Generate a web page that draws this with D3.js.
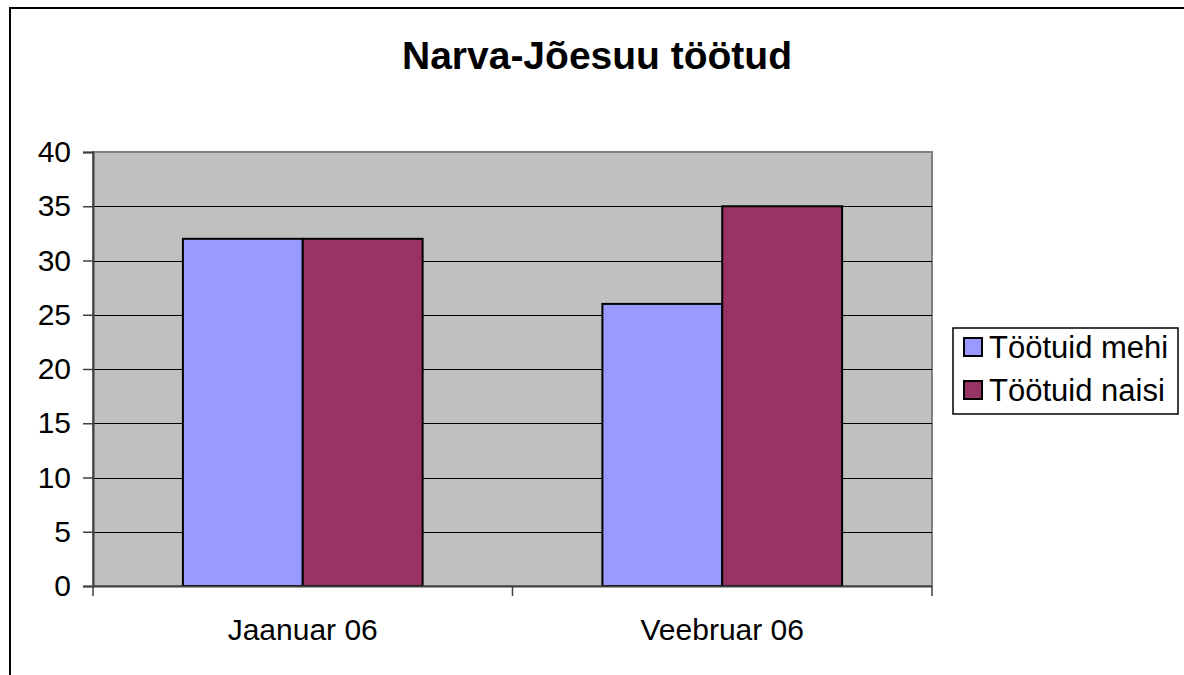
<!DOCTYPE html>
<html>
<head>
<meta charset="utf-8">
<script src="https://cdn.jsdelivr.net/npm/d3@7"></script>
<style>
  body { margin: 0; background: #fff; }
  text { font-family: "Liberation Sans", Arial, sans-serif; }
</style>
</head>
<body>
<div id="chart"></div>
<script>
var categories = ["Jaanuar 06", "Veebruar 06"];
var seriesNames = ["Töötuid mehi", "Töötuid naisi"];
var men = [32, 26];
var women = [32, 35];
var yTicks = [0, 5, 10, 15, 20, 25, 30, 35, 40];
var colors = ["#9999ff", "#993366"];

var svgWidth = 1184;
var svgHeight = 675;

var margin = { top: 152, right: 252, bottom: 89, left: 93 };
var width = svgWidth - margin.left - margin.right;
var height = svgHeight - margin.top - margin.bottom;

var svg = d3.select("#chart")
  .append("svg")
  .attr("width", svgWidth)
  .attr("height", svgHeight);

// outer chart frame (runs off the right and bottom edges)
svg.append("rect")
  .attr("x", 10).attr("y", 8)
  .attr("width", 1300).attr("height", 800)
  .attr("fill", "none")
  .attr("stroke", "#000")
  .attr("stroke-width", 2);

svg.append("text")
  .attr("x", 597)
  .attr("y", 69)
  .attr("text-anchor", "middle")
  .attr("font-size", "39px")
  .attr("font-weight", "bold")
  .text("Narva-Jõesuu töötud");

var chartGroup = svg.append("g")
  .attr("transform", `translate(${margin.left}, ${margin.top})`);

var x0 = d3.scaleBand()
  .domain(categories)
  .range([0, width]);

// Excel-style gap width 75%
var groupWidth = x0.bandwidth() / 1.75;
var x1 = d3.scaleBand()
  .domain(seriesNames)
  .range([0, groupWidth]);

var y = d3.scaleLinear()
  .domain([0, 40])
  .range([height, 0]);

// plot background
chartGroup.append("rect")
  .attr("width", width)
  .attr("height", height)
  .attr("fill", "#c0c0c0")
  .attr("stroke", "#808080")
  .attr("stroke-width", 2);

// gridlines
chartGroup.selectAll(".grid")
  .data(yTicks.filter(d => d > 0 && d < 40))
  .enter()
  .append("line")
  .attr("x1", 0).attr("x2", width)
  .attr("y1", d => Math.round(y(d)) + 0.5)
  .attr("y2", d => Math.round(y(d)) + 0.5)
  .attr("stroke", "#000")
  .attr("stroke-width", 1);

var data = categories.map((c, i) => ({ cat: c, values: [men[i], women[i]] }));

var groups = chartGroup.selectAll(".grp")
  .data(data)
  .enter()
  .append("g")
  .attr("transform", d => `translate(${x0(d.cat) + (x0.bandwidth() - groupWidth) / 2}, 0)`);

groups.selectAll("rect")
  .data(d => d.values.map((v, i) => ({ name: seriesNames[i], value: v, i: i })))
  .enter()
  .append("rect")
  .attr("x", d => x1(d.name))
  .attr("y", d => y(d.value))
  .attr("width", x1.bandwidth())
  .attr("height", d => height - y(d.value))
  .attr("fill", d => colors[d.i])
  .attr("stroke", "#000")
  .attr("stroke-width", 2);

// axes
var leftAxis = d3.axisLeft(y)
  .tickValues(yTicks)
  .tickSize(10)
  .tickPadding(12);

var yAxisG = chartGroup.append("g").call(leftAxis);
yAxisG.select(".domain").attr("stroke", "#404040").attr("stroke-width", 2);
yAxisG.selectAll(".tick line").attr("stroke", "#404040").attr("stroke-width", 1.5);
yAxisG.selectAll(".tick text")
  .attr("font-family", "Liberation Sans, Arial, sans-serif")
  .attr("font-size", "30px")
  .attr("fill", "#000");

var bottomAxis = d3.axisBottom(x0).tickSize(0).tickPadding(0);
var xAxisG = chartGroup.append("g")
  .attr("transform", `translate(0, ${height})`)
  .call(bottomAxis);
xAxisG.select(".domain").attr("stroke", "#404040").attr("stroke-width", 2);
xAxisG.selectAll(".tick text")
  .attr("font-family", "Liberation Sans, Arial, sans-serif")
  .attr("font-size", "30px")
  .attr("fill", "#000")
  .attr("dy", 0)
  .attr("y", 54);

// category divider ticks
chartGroup.selectAll(".ctick")
  .data(d3.range(categories.length + 1))
  .enter()
  .append("line")
  .attr("x1", i => i * x0.step())
  .attr("x2", i => i * x0.step())
  .attr("y1", height)
  .attr("y2", height + 10)
  .attr("stroke", "#404040")
  .attr("stroke-width", 1.5);

// legend
var legend = svg.append("g").attr("transform", "translate(953, 328)");
legend.append("rect")
  .attr("width", 225).attr("height", 86)
  .attr("fill", "#fff")
  .attr("stroke", "#000")
  .attr("stroke-width", 1.5);

var items = legend.selectAll(".item")
  .data(seriesNames)
  .enter()
  .append("g")
  .attr("transform", (d, i) => `translate(0, ${i * 43})`);

items.append("rect")
  .attr("x", 11).attr("y", 10)
  .attr("width", 18).attr("height", 18)
  .attr("fill", (d, i) => colors[i])
  .attr("stroke", "#000")
  .attr("stroke-width", 2);

items.append("text")
  .attr("x", 36)
  .attr("y", 30)
  .attr("font-size", "31px")
  .text(d => d);
</script>
</body>
</html>
